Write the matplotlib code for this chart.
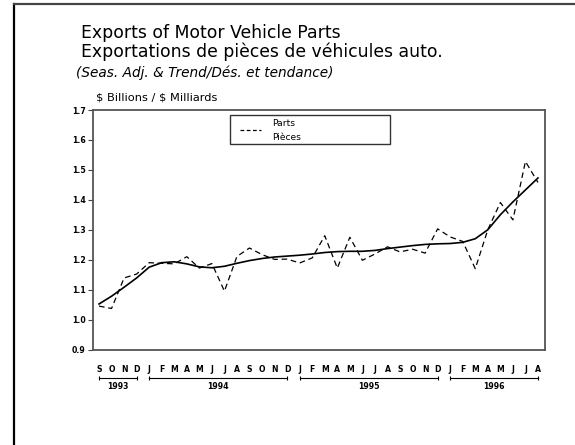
import matplotlib
matplotlib.use("Agg")
import matplotlib.pyplot as plt
from matplotlib.patches import Rectangle
from matplotlib.lines import Line2D
import numpy as np

# ---- data ----
months = ["S", "O", "N", "D",
          "J", "F", "M", "A", "M", "J", "J", "A", "S", "O", "N", "D",
          "J", "F", "M", "A", "M", "J", "J", "A", "S", "O", "N", "D",
          "J", "F", "M", "A", "M", "J", "J", "A"]
years = ["1993", "1994", "1995", "1996"]
year_start = [0, 4, 16, 28]
year_end = [3, 15, 27, 35]

parts = [1.045, 1.037, 1.139, 1.152, 1.190, 1.188, 1.186, 1.210, 1.172, 1.187,
         1.095, 1.211, 1.239, 1.217, 1.201, 1.202, 1.189, 1.206, 1.280, 1.172,
         1.275, 1.198, 1.219, 1.243, 1.226, 1.235, 1.222, 1.303, 1.276, 1.261,
         1.170, 1.300, 1.391, 1.333, 1.528, 1.458]
trend = [1.052, 1.078, 1.108, 1.139, 1.175, 1.190, 1.193, 1.186, 1.176, 1.173,
         1.178, 1.188, 1.197, 1.204, 1.209, 1.212, 1.215, 1.219, 1.224, 1.227,
         1.228, 1.228, 1.231, 1.237, 1.242, 1.247, 1.251, 1.253, 1.254, 1.258,
         1.270, 1.300, 1.350, 1.393, 1.433, 1.473]
yticks = [0.9, 1.0, 1.1, 1.2, 1.3, 1.4, 1.5, 1.6, 1.7]

title1 = "Exports of Motor Vehicle Parts"
title2 = "Exportations de pièces de véhicules auto."
title3 = "(Seas. Adj. & Trend/Dés. et tendance)"
ylab = r"\$ Billions / \$ Milliards"

plt.rcParams['font.family'] = ['DejaVu Sans']

W, H = 575, 445
fig = plt.figure(figsize=(W / 100, H / 100), dpi=100)

def fx(px):
    return px / W

def fy(py):
    return 1 - py / H

# page border (top & left)
fig.add_artist(Line2D([fx(14), fx(14)], [fy(4), 0], color="black", lw=1.6, transform=fig.transFigure))
fig.add_artist(Line2D([fx(14), 1], [fy(4), fy(4)], color="#444444", lw=1.6, transform=fig.transFigure))

# titles
fig.text(fx(81), fy(33), title1, fontsize=12.4, va="center", ha="left")
fig.text(fx(81), fy(52), title2, fontsize=12.4, va="center", ha="left")
fig.text(fx(76), fy(73), title3, fontsize=9.8, style="italic", va="center", ha="left")
fig.text(fx(96), fy(97), ylab, fontsize=8.2, va="center", ha="left")

ax_l, ax_r, ax_t, ax_b = 93.3, 545, 110, 349.5
ax = fig.add_axes([fx(ax_l), fy(ax_b), fx(ax_r - ax_l), (ax_b - ax_t) / H])

x = np.arange(len(parts))
ax.plot(x, parts, color="black", lw=0.9, ls=(0, (4.5, 3)))
ax.plot(x, trend, color="black", lw=1.2)

ax.set_xlim(-0.455, 35.56)
ax.set_ylim(0.9, 1.7)
ax.set_yticks(yticks)
ax.set_yticklabels([f"{v:.1f}" for v in yticks], fontsize=5.6, fontweight="bold")
ax.tick_params(axis="y", length=3.5, width=0.8, pad=2, color="#444444")
ax.set_xticks(x)
ax.set_xticklabels(months, fontsize=5.6, fontweight="bold")
ax.tick_params(axis="x", length=0, pad=11.5)
for s in ax.spines.values():
    s.set_color("#555555")
    s.set_linewidth(1.3)

# year brackets
trans = ax.get_xaxis_transform()
axh = ax_b - ax_t
yb = -(378 - ax_b) / axh
yt = -(386.5 - ax_b) / axh
for lab, a, b in zip(years, year_start, year_end):
    ax.plot([a, b], [yb, yb], color="black", lw=0.8, transform=trans, clip_on=False)
    ax.plot([a, b], [yb, yb], ls="none", marker="|", ms=3, mew=0.8, color="black",
            transform=trans, clip_on=False)
    ax.text((a + b) / 2, yt, lab, transform=trans, ha="center", va="center",
            fontsize=5.6, fontweight="bold")

# legend box
axw = ax_r - ax_l
def axx(px):
    return (px - ax_l) / axw
def axy(py):
    return (ax_b - py) / axh
ax.add_patch(Rectangle((axx(230), axy(144)), axx(390) - axx(230), axy(115) - axy(144),
                       transform=ax.transAxes, fill=False, edgecolor="#333333", lw=1.0,
                       clip_on=False))
ax.add_line(Line2D([axx(240), axx(261)], [axy(130), axy(130)], color="black", lw=0.9,
                   ls=(0, (3, 2)), transform=ax.transAxes))
ax.text(axx(272), axy(123), "Parts", transform=ax.transAxes, fontsize=6.6, va="center")
ax.text(axx(272), axy(137), "Pièces", transform=ax.transAxes, fontsize=6.6, va="center")

fig.savefig("out.png", dpi=100)
